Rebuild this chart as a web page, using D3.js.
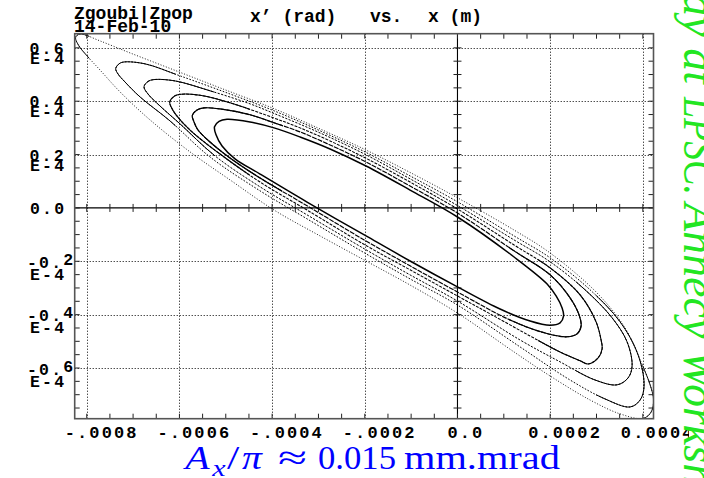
<!DOCTYPE html>
<html><head><meta charset="utf-8">
<script src="https://cdn.jsdelivr.net/npm/d3@7"></script>
<style>body{margin:0;background:#fff}svg{display:block}</style>
</head><body>
<script>
const W = 704, H = 478;

// Axis ranges: x in m, x' in rad
const xDomain = [-0.000826, 0.000423];
const yDomain = [-0.790e-4, 0.653e-4];

const xMajor = [-0.0008, -0.0006, -0.0004, -0.0002, 0, 0.0002, 0.0004];
const xMajorLabels = ["-.0008", "-.0006", "-.0004", "-.0002", "0.0", "0.0002", "0.0004"];
const yMajor = [-0.6e-4, -0.4e-4, -0.2e-4, 0, 0.2e-4, 0.4e-4, 0.6e-4];
const yMajorLabels = ["-0.6", "-0.4", "-0.2", "0.0", "0.2", "0.4", "0.6"];
const yExpLabel = "E-4";

// Phase-space contours, [x, x'] in units of 1e-4 (m, rad), innermost first
const unit = 1e-4;
const orbit1 = [[-5.243,0.304],[-5.145,0.324],[-4.973,0.332],[-4.476,0.322],[-3.958,0.300],[-3.397,0.266],[-2.750,0.221],[-1.973,0.157],[-1.023,0.067],[0,-0.034],[1.222,-0.184],[1.934,-0.285],[2.128,-0.330],[2.258,-0.375],[2.290,-0.405],[2.214,-0.431],[2.000,-0.440],[1.567,-0.424],[0.919,-0.379],[0,-0.296],[-1.023,-0.199],[-1.973,-0.105],[-3.246,0.022],[-4.260,0.127],[-4.800,0.184],[-5.080,0.232],[-5.210,0.274]];
const orbit2 = [[-5.722,0.347],[-5.620,0.367],[-5.469,0.375],[-5.124,0.371],[-4.476,0.349],[-3.958,0.319],[-3.397,0.285],[-2.750,0.236],[-1.973,0.172],[-1.023,0.082],[0,-0.019],[1.222,-0.161],[2.000,-0.251],[2.430,-0.337],[2.624,-0.401],[2.668,-0.442],[2.581,-0.472],[2.365,-0.483],[1.891,-0.469],[1.135,-0.420],[0,-0.315],[-1.023,-0.217],[-1.973,-0.124],[-3.246,0.008],[-4.260,0.112],[-4.908,0.187],[-5.340,0.247],[-5.599,0.292],[-5.685,0.322]];
const orbit3 = [[-6.209,0.397],[-6.117,0.418],[-5.966,0.426],[-5.555,0.422],[-4.908,0.394],[-3.958,0.337],[-3.397,0.300],[-2.750,0.251],[-1.973,0.186],[-1.023,0.097],[0,-0.004],[1.222,-0.139],[2.000,-0.225],[2.646,-0.326],[2.991,-0.427],[3.099,-0.495],[3.121,-0.528],[3.035,-0.562],[2.819,-0.585],[2.646,-0.573],[2.214,-0.540],[1.567,-0.480],[0.704,-0.397],[0,-0.330],[-1.023,-0.232],[-1.973,-0.141],[-3.246,-0.008],[-4.260,0.097],[-5.124,0.202],[-5.771,0.292],[-6.074,0.349],[-6.181,0.379]];
const orbit4 = [[-6.764,0.454],[-6.678,0.474],[-6.548,0.481],[-6.095,0.476],[-5.340,0.439],[-4.476,0.390],[-3.958,0.354],[-2.965,0.281],[-1.973,0.199],[-1.023,0.109],[0,0.009],[1.222,-0.120],[2.000,-0.202],[2.754,-0.307],[3.337,-0.412],[3.660,-0.502],[3.768,-0.592],[3.682,-0.637],[3.445,-0.663],[2.970,-0.645],[2.214,-0.577],[1.351,-0.495],[0,-0.349],[-1.023,-0.251],[-1.973,-0.157],[-3.246,-0.026],[-4.260,0.079],[-5.232,0.195],[-5.987,0.315],[-6.419,0.382],[-6.678,0.427]];
const orbit5 = [[-7.375,0.522],[-7.304,0.540],[-7.196,0.547],[-6.743,0.540],[-5.987,0.495],[-4.908,0.427],[-3.958,0.364],[-2.965,0.289],[-1.973,0.208],[-1.023,0.120],[0,0.023],[1.222,-0.105],[2.000,-0.187],[2.862,-0.307],[3.509,-0.427],[3.898,-0.551],[4.027,-0.667],[3.941,-0.720],[3.725,-0.746],[3.185,-0.716],[2.430,-0.645],[1.351,-0.521],[0,-0.364],[-1.023,-0.266],[-1.973,-0.172],[-3.246,-0.041],[-4.260,0.064],[-5.340,0.191],[-6.203,0.326],[-6.850,0.416],[-7.174,0.472],[-7.325,0.502]];
const orbit6 = [[-8.243,0.637],[-8.210,0.647],[-8.124,0.652],[-7.714,0.626],[-7.066,0.581],[-6.117,0.517],[-5.124,0.450],[-3.958,0.372],[-2.965,0.296],[-1.973,0.217],[-1.023,0.133],[0,0.038],[1.222,-0.083],[2.000,-0.169],[3.013,-0.319],[3.617,-0.450],[3.941,-0.570],[4.157,-0.663],[4.232,-0.720],[4.179,-0.765],[4.006,-0.789],[3.509,-0.772],[2.862,-0.720],[2.000,-0.630],[1.222,-0.540],[0,-0.394],[-1.023,-0.289],[-1.973,-0.199],[-2.965,-0.105],[-3.958,-0.008],[-4.908,0.105],[-5.771,0.210],[-6.635,0.330],[-7.282,0.435],[-7.714,0.517],[-7.994,0.570],[-8.167,0.607]];
const orbits = [orbit1, orbit2, orbit3, orbit4, orbit5, orbit6];

const titleLeft1 = "Zgoubi|Zpop";
const titleLeft2 = "14-Feb-10";
const titleParts = ["x\u2019 (rad)", "vs.", "x (m)"];
const sideNote = ["Study at", "LPSC.", "Annecy Workshop"];

const mono = "'Liberation Mono','DejaVu Sans Mono',monospace";
const serif = "'Liberation Serif','Times New Roman',serif";

const svg = d3.select("body").append("svg").attr("width", W).attr("height", H);

const box = {left: 74.7, right: 653.5, top: 33.7, bottom: 418.7};
const x = d3.scaleLinear().domain(xDomain).range([box.left, box.right]);
const y = d3.scaleLinear().domain(yDomain).range([box.bottom, box.top]);

const defs = svg.append("defs");
defs.append("clipPath").attr("id", "page").append("rect").attr("x", 0).attr("y", 0).attr("width", 689).attr("height", H);
defs.append("clipPath").attr("id", "frame").append("rect")
  .attr("x", box.left).attr("y", box.top).attr("width", box.right - box.left).attr("height", box.bottom - box.top);

const chart = svg.append("g").attr("clip-path", "url(#page)");

// dotted grid at major ticks
const grid = chart.append("g").attr("stroke", "#000").attr("stroke-width", 1).attr("stroke-dasharray", "1 2");
grid.selectAll("line.gx").data(xMajor.filter(d => d !== 0)).join("line")
  .attr("x1", d => Math.round(x(d)) + 0.5).attr("x2", d => Math.round(x(d)) + 0.5)
  .attr("y1", box.top).attr("y2", box.bottom);
grid.selectAll("line.gy").data(yMajor.filter(d => d !== 0)).join("line")
  .attr("y1", d => Math.round(y(d)) + 0.5).attr("y2", d => Math.round(y(d)) + 0.5)
  .attr("x1", box.left).attr("x2", box.right);

// zero axes
const zero = chart.append("g").attr("stroke", "#000").attr("stroke-width", 1.1);
zero.append("line").attr("x1", box.left).attr("x2", box.right).attr("y1", y(0)).attr("y2", y(0));
zero.append("line").attr("y1", box.top).attr("y2", box.bottom).attr("x1", x(0)).attr("x2", x(0));

// minor ticks (quarter of a major step)
const xMinor = d3.range(-16, 9).map(k => k * 0.00005).filter(v => x(v) > box.left + 1.5 && x(v) < box.right - 1.5);
const yMinor = d3.range(-15, 14).map(k => k * 0.05e-4).filter(v => y(v) < box.bottom - 1.5 && y(v) > box.top + 1.5);
const ticks = chart.append("g").attr("stroke", "#222").attr("stroke-width", 1);
const tl = 5, tz = 4;
xMinor.forEach(v => {
  const px = x(v);
  ticks.append("line").attr("x1", px).attr("x2", px).attr("y1", box.top).attr("y2", box.top + tl);
  ticks.append("line").attr("x1", px).attr("x2", px).attr("y1", box.bottom).attr("y2", box.bottom - tl);
  ticks.append("line").attr("x1", px).attr("x2", px).attr("y1", y(0) - tz).attr("y2", y(0) + tz);
});
yMinor.forEach(v => {
  const py = y(v);
  ticks.append("line").attr("y1", py).attr("y2", py).attr("x1", box.left).attr("x2", box.left + tl);
  ticks.append("line").attr("y1", py).attr("y2", py).attr("x1", box.right).attr("x2", box.right - tl);
  ticks.append("line").attr("y1", py).attr("y2", py).attr("x1", x(0) - tz).attr("x2", x(0) + tz);
});

// phase-space contours: points pile up at the turning ends and thin out along the flanks,
// so each contour is drawn dotted, with a solid overlay near both ends
const line = d3.line()
  .x(d => x(d[0] * unit)).y(d => y(d[1] * unit))
  .curve(d3.curveCatmullRomClosed.alpha(0.5));
const widths = [1.5, 1.15, 1.05, 1.0, 1.0, 0.9];
const dashes = [null, "5 1", "3 1.2", "2.2 1.4", "1.6 1.6", "1 1.8"];
const endSpan = [0, 90, 80, 70, 60, 14];
const curves = chart.append("g").attr("clip-path", "url(#frame)");
orbits.forEach((pts, i) => {
  const d = line(pts);
  curves.append("path").attr("d", d).attr("fill", "none").attr("stroke", "#000")
    .attr("stroke-width", widths[i]).attr("stroke-dasharray", dashes[i]);
  if (endSpan[i] > 0) {
    const [x0, x1] = d3.extent(pts, p => x(p[0] * unit));
    const cp = defs.append("clipPath").attr("id", "ends" + i);
    cp.append("rect").attr("x", x0 - 3).attr("y", 0).attr("width", endSpan[i] + 3).attr("height", H);
    cp.append("rect").attr("x", x1 - endSpan[i] * 0.8).attr("y", 0).attr("width", endSpan[i] * 0.8 + 3).attr("height", H);
    curves.append("path").attr("d", d).attr("fill", "none").attr("stroke", "#000")
      .attr("stroke-width", widths[i]).attr("clip-path", `url(#ends${i})`);
  }
});

// frame
chart.append("rect")
  .attr("x", box.left).attr("y", box.top).attr("width", box.right - box.left).attr("height", box.bottom - box.top)
  .attr("fill", "none").attr("stroke", "#555").attr("stroke-width", 1.6);

// header texts
const head = chart.append("g").attr("font-family", mono).attr("font-weight", "bold").attr("font-size", 18).attr("fill", "#000");
head.append("text").attr("x", 74).attr("y", 19).text(titleLeft1);
head.append("text").attr("x", 74).attr("y", 31.5).text(titleLeft2);
const titleX = [250, 370, 428];
titleParts.forEach((t, i) => head.append("text").attr("x", titleX[i]).attr("y", 21.5).style("white-space", "pre").text(t));

// x tick labels
const lab = chart.append("g").attr("font-family", mono).attr("font-weight", "bold").attr("font-size", 17)
  .attr("fill", "#000").attr("letter-spacing", 2.1);
xMajor.forEach((v, i) => {
  const t = xMajorLabels[i];
  lab.append("text").attr("x", x(v) - 4 * t.length + 2).attr("y", 437.5).text(t);
});

// y tick labels: mantissa over exponent
const ylab = chart.append("g").attr("font-family", mono).attr("font-weight", "bold").attr("font-size", 16.5)
  .attr("fill", "#000").attr("letter-spacing", 2.2);
yMajor.forEach((v, i) => {
  const t = yMajorLabels[i], py = y(v);
  if (v === 0) {
    ylab.append("text").attr("x", 30).attr("y", py + 6).text(t);
  } else if (v > 0) {
    ylab.append("text").attr("x", 29.5).attr("y", py + 6).text(t);
    ylab.append("text").attr("x", 30).attr("y", py + 16).text(yExpLabel);
  } else {
    const tx = ylab.append("text").attr("x", 27).attr("y", py + 6.5);
    tx.append("tspan").text(t.slice(0, -1));
    tx.append("tspan").attr("dy", -3).text(t.slice(-1));
    ylab.append("text").attr("x", 30).attr("y", py + 18.5).text(yExpLabel);
  }
});

// emittance annotation, each piece stretched to its width
const ann = svg.append("g").attr("font-family", serif).attr("fill", "#0000ff");
const annParts = [
  {t: "A", x0: 183, x1: 210, it: true, fs: 34, base: 469},
  {t: "x", x0: 211, x1: 226, it: true, fs: 24, base: 476},
  {t: "/", x0: 227, x1: 240, it: false, fs: 34, base: 469},
  {t: "\u03c0", x0: 242, x1: 263, it: true, fs: 34, base: 469},
  {t: "\u2248", x0: 278, x1: 307, it: false, fs: 34, base: 469},
  {t: "0.015", x0: 318, x1: 396, it: false, fs: 34, base: 469},
  {t: "mm.mrad", x0: 404, x1: 560, it: false, fs: 34, base: 469}
];
annParts.forEach(p => {
  const g = ann.append("g");
  const tx = g.append("text").attr("font-size", p.fs).attr("font-style", p.it ? "italic" : "normal").text(p.t);
  const bb = tx.node().getBBox();
  const sx = (p.x1 - p.x0) / bb.width;
  tx.attr("x", -bb.x);
  g.attr("transform", `translate(${p.x0},${p.base}) scale(${sx},1)`);
});

// rotated side note at the right edge (reads top to bottom)
const side = svg.append("text")
  .attr("font-family", serif).attr("font-style", "italic").attr("font-size", 46)
  .attr("fill", "#22e622").attr("transform", "translate(684,0) rotate(90)").attr("y", 0);
const s0 = side.append("tspan").text(sideNote[0]);
const w0 = s0.node().getComputedTextLength();
s0.attr("x", 84 - w0);
side.append("tspan").attr("x", 97).attr("textLength", 98).attr("lengthAdjust", "spacingAndGlyphs").text(sideNote[1]);
side.append("tspan").attr("x", 203).text(sideNote[2]);
</script>
</body></html>
